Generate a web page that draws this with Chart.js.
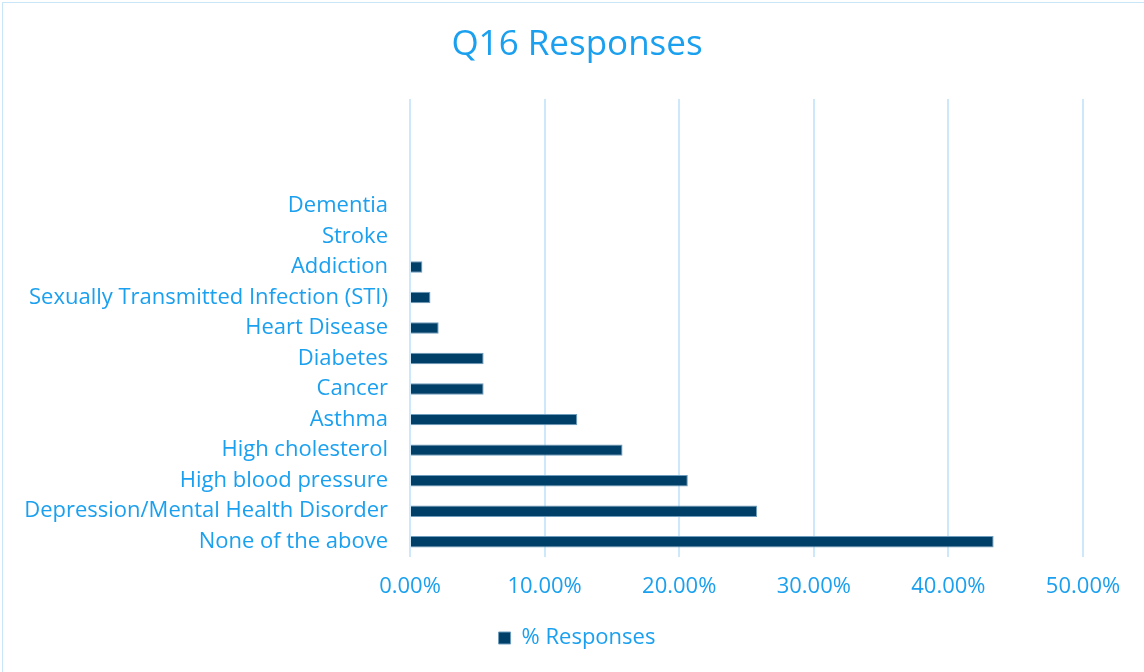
<!DOCTYPE html>
<html>
<head>
<meta charset="utf-8">
<script src="https://cdn.jsdelivr.net/npm/chart.js@4.4.1/dist/chart.umd.min.js"></script>
<style>
  html, body { margin: 0; padding: 0; background: #ffffff; }
  #wrap { position: relative; width: 1144px; height: 672px; overflow: hidden; }
  #frame { position: absolute; left: 2px; top: 2px; width: 1150px; height: 680px; border: 1px solid #c8e6f8; box-sizing: border-box; }
  canvas { position: absolute; left: 0; top: 0; }
</style>
</head>
<body>
<div id="wrap">
  <div id="frame"></div>
  <canvas id="c" width="1144" height="672"></canvas>
</div>
<script>
const categories = ['', ' ', '  ', 'Dementia', 'Stroke', 'Addiction', 'Sexually Transmitted Infection (STI)', 'Heart Disease', 'Diabetes', 'Cancer', 'Asthma', 'High cholesterol', 'High blood pressure', 'Depression/Mental Health Disorder', 'None of the above'];
const responses = [null, null, null, 0, 0, 0.92, 1.52, 2.13, 5.47, 5.47, 12.43, 15.79, 20.64, 25.79, 43.36];
const xTicks = [0, 10, 20, 30, 40, 50];
const seriesName = '% Responses';
const titleText = 'Q16 Responses';

const TEXT = '#1aa0ef';
const BAR = '#003f68';
const FONT = "'Open Sans', sans-serif";

new Chart(document.getElementById('c'), {
  type: 'bar',
  data: {
    labels: categories,
    datasets: [{
      label: seriesName,
      data: responses,
      backgroundColor: BAR,
      borderColor: '#6f9dbd',
      borderWidth: 1,
      barPercentage: 0.75,
      categoryPercentage: 0.5
    }]
  },
  options: {
    indexAxis: 'y',
    responsive: false,
    animation: false,
    devicePixelRatio: 1,
    layout: { padding: { left: 10, right: 0, top: 0, bottom: 13 } },
    plugins: {
      title: {
        display: true,
        text: titleText,
        color: TEXT,
        font: { family: FONT, size: 35, weight: 'normal' },
        padding: { top: 24, bottom: 33 }
      },
      legend: {
        display: true,
        position: 'bottom',
        labels: {
          color: TEXT,
          font: { family: FONT, size: 22 },
          boxWidth: 12,
          boxHeight: 12,
          padding: 10
        }
      },
      tooltip: { enabled: false }
    },
    scales: {
      x: {
        min: 0,
        max: 50,
        afterBuildTicks: (s) => { s.ticks = xTicks.map(v => ({ value: v })); },
        afterFit: (s) => { s.height = 60; s.paddingRight = 61; },
        ticks: {
          color: TEXT,
          font: { family: FONT, size: 22 },
          padding: 17,
          callback: (v) => Number(v).toFixed(2) + '%'
        },
        grid: { color: '#cde8fa', lineWidth: 2, drawTicks: false },
        border: { display: false }
      },
      y: {
        afterFit: (s) => { s.width = 400; },
        ticks: {
          color: TEXT,
          font: { family: FONT, size: 22 },
          padding: 22,
          autoSkip: false
        },
        grid: { display: false, drawTicks: false },
        border: { display: false }
      }
    }
  }
});
</script>
</body>
</html>
